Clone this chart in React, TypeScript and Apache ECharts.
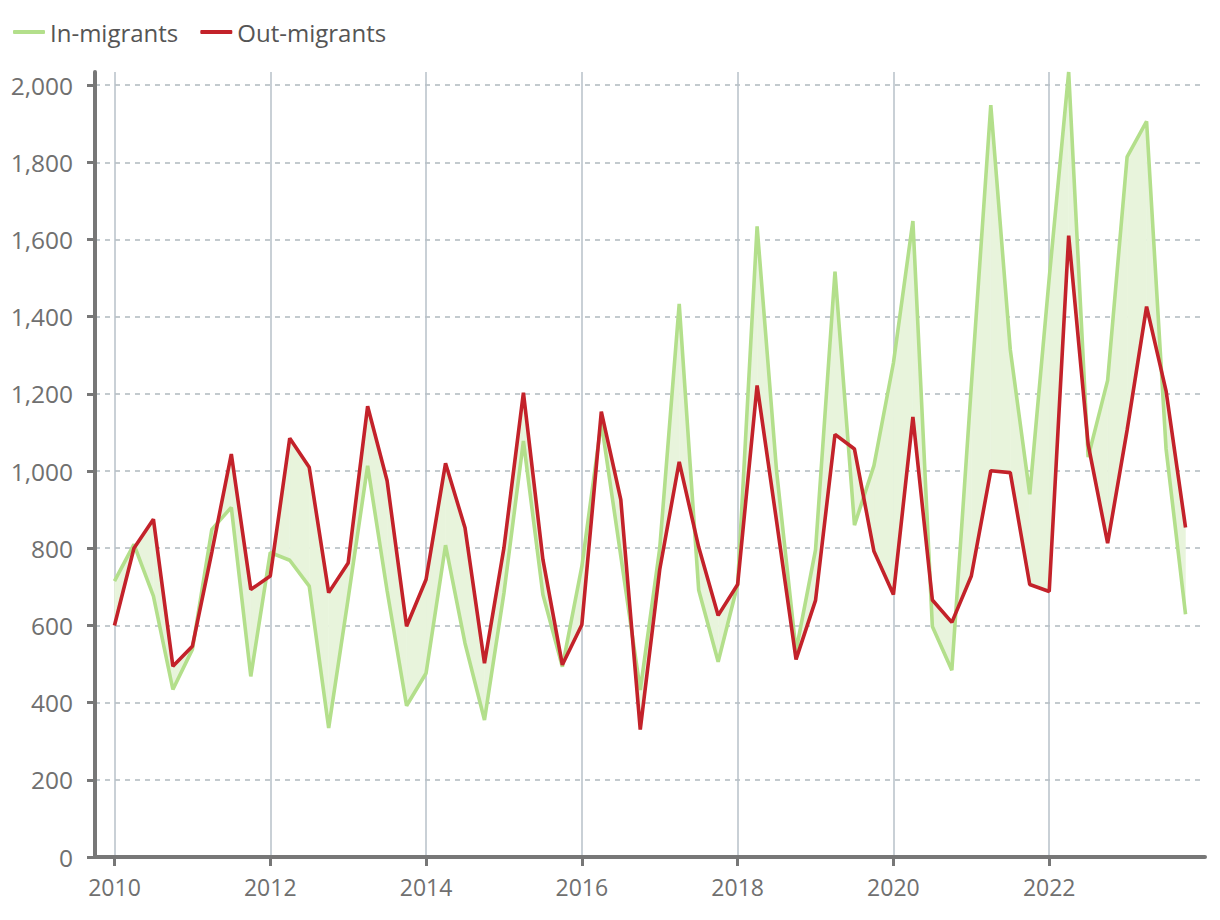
import React, { useEffect, useRef } from 'react';
import * as echarts from 'echarts';

const years = [2010, 2011, 2012, 2013, 2014, 2015, 2016, 2017, 2018, 2019, 2020, 2021, 2022, 2023];
const quarterOffsets = [0, 0.25, 0.5, 0.75];

const inMigrants = [
  715, 810, 676, 434, 538, 849, 906, 468,
  789, 769, 702, 334, 670, 1014, 690, 392,
  476, 808, 554, 355, 684, 1078, 680, 493,
  753, 1126, 780, 433, 800, 1433, 692, 506,
  706, 1634, 1000, 534, 796, 1517, 860, 1014,
  1280, 1648, 597, 484, 1220, 1948, 1315, 940,
  1500, 2034, 1036, 1235, 1814, 1906, 1058, 629,
];

const outMigrants = [
  600, 800, 875, 494, 546, 790, 1044, 693,
  728, 1085, 1010, 685, 762, 1168, 975, 598,
  719, 1020, 853, 502, 801, 1203, 771, 498,
  602, 1154, 926, 330, 745, 1024, 803, 626,
  706, 1222, 870, 512, 665, 1095, 1057, 792,
  680, 1140, 666, 608, 728, 1001, 996, 706,
  688, 1610, 1069, 813, 1106, 1426, 1208, 854,
];

const xTicks = [2010, 2012, 2014, 2016, 2018, 2020, 2022];
const yTicks = [0, 200, 400, 600, 800, 1000, 1200, 1400, 1600, 1800, 2000];

const FONT = '"Open Sans", "Noto Sans", sans-serif';

export default function App() {
  const ref = useRef<HTMLDivElement>(null);
  useEffect(() => {
    if (!ref.current) return;
    const chart = echarts.init(ref.current, undefined, { renderer: 'svg' });
    const xs: number[] = [];
    years.forEach((y) => quarterOffsets.forEach((q) => xs.push(y + q)));
    const inData = xs.map((x, i) => [x, inMigrants[i]]);
    const outData = xs.map((x, i) => [x, outMigrants[i]]);
    const segData: number[][] = [];
    for (let i = 0; i < xs.length - 1; i++) {
      segData.push([xs[i], inMigrants[i], outMigrants[i], xs[i + 1], inMigrants[i + 1], outMigrants[i + 1]]);
    }

    chart.setOption({
      animation: false,
      backgroundColor: '#ffffff',
      textStyle: { fontFamily: FONT },
      legend: {
        left: 8,
        top: 15,
        data: ['In-migrants', 'Out-migrants'],
        icon: 'roundRect',
        itemWidth: 32,
        itemHeight: 4,
        itemGap: 22,
        textStyle: { fontFamily: FONT, fontSize: 24, color: '#555555' },
      },
      grid: { left: 95, right: 15, top: 72, bottom: 63, containLabel: false },
      xAxis: {
        type: 'value',
        min: 2009.75,
        max: 2024,
        axisLine: { show: true, lineStyle: { color: '#777777', width: 4 } },
        axisTick: { show: true, customValues: xTicks, length: 9, lineStyle: { color: '#777777', width: 3 } },
        axisLabel: {
          customValues: xTicks,
          color: '#707070',
          fontSize: 23,
          fontFamily: FONT,
          margin: 18,
          formatter: (v: number) => String(v),
        },
        splitLine: { show: true, lineStyle: { color: '#b7c1c8', width: 1.5, type: 'solid' } },
      },
      yAxis: {
        type: 'value',
        min: 0,
        max: 2034,
        axisLine: { show: true, lineStyle: { color: '#777777', width: 4 } },
        axisTick: { show: true, customValues: yTicks, length: 8, lineStyle: { color: '#777777', width: 3 } },
        axisLabel: {
          customValues: yTicks,
          color: '#707070',
          fontSize: 24.5,
          fontFamily: FONT,
          margin: 22,
          formatter: (v: number) => v.toLocaleString('en-US'),
        },
        splitLine: { show: true, lineStyle: { color: '#b0b9bf', width: 1.5, type: [5, 5] } },
      },
      series: [
        {
          name: 'band',
          type: 'custom',
          silent: true,
          z: 1,
          data: segData,
          renderItem: (params: any, api: any) => {
            const a1 = api.coord([api.value(0), api.value(1)]);
            const b1 = api.coord([api.value(0), api.value(2)]);
            const a2 = api.coord([api.value(3), api.value(4)]);
            const b2 = api.coord([api.value(3), api.value(5)]);
            return {
              type: 'polygon',
              shape: { points: [a1, a2, b2, b1] },
              style: { fill: '#e8f4dc', stroke: '#e8f4dc', lineWidth: 0.5 },
            };
          },
        },
        {
          name: 'In-migrants',
          type: 'line',
          data: inData,
          symbol: 'none',
          color: '#b3df8b',
          lineStyle: { color: '#b3df8b', width: 3.6 },
          z: 3,
        },
        {
          name: 'Out-migrants',
          type: 'line',
          data: outData,
          symbol: 'none',
          color: '#c3222a',
          lineStyle: { color: '#c3222a', width: 3.6 },
          z: 4,
        },
      ],
    });
    return () => chart.dispose();
  }, []);
  return (
    <div
      ref={ref}
      style={{ position: 'fixed', left: 0, top: 0, width: 1220, height: 920, background: '#fff' }}
    />
  );
}
